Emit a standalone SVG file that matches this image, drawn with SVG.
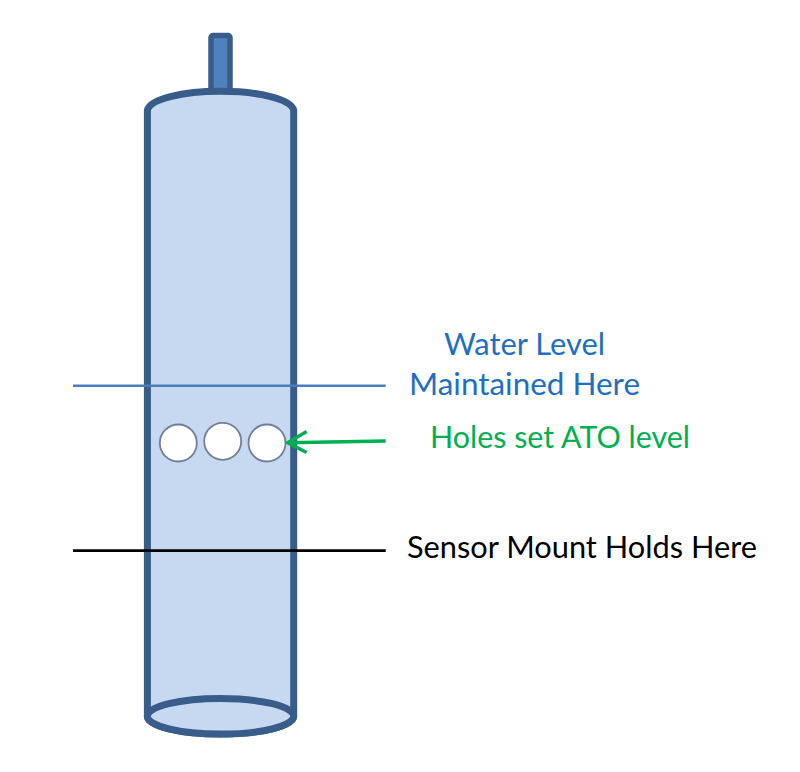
<svg xmlns="http://www.w3.org/2000/svg" width="800" height="772" viewBox="0 0 800 772">
<style>
.body{fill:#c6d9f1;stroke:#385d8a;stroke-width:7;stroke-linejoin:round}
.hole{fill:#fff;stroke:#6f7f98;stroke-width:1.800}
.lbl{font-family:Lato,"Open Sans","Liberation Sans",sans-serif;font-size:30px}
.line{fill:none;stroke-linecap:butt}
</style>
<rect width="800" height="772" fill="#fff"/>
<g id="stem"><rect x="211" y="35.500" width="19" height="58" rx="2" fill="#4f81bd" stroke="#385d8a" stroke-width="5.500" stroke-linejoin="round"/></g>
<g id="cylinder">
<path class="body" d="M147.400 110C150 99 182 91.300 220.500 91.300C259 91.300 291 99 293.700 110V716C293.700 726 261 734 220.500 734C180 734 147.400 726 147.400 716Z"/>
<ellipse class="body" cx="220.500" cy="716.300" rx="73.200" ry="17.800"/>
</g>
<g id="holes">
<circle class="hole" cx="178.300" cy="443" r="18.500"/>
<circle class="hole" cx="222.700" cy="441.300" r="18.500"/>
<circle class="hole" cx="267" cy="443" r="18.500"/>
</g>
<g id="connectors">
<path class="line" d="M73 385.700H385.700" stroke="#4a7ebb" stroke-width="2.500"/>
<path class="line" d="M73 550.700H385.700" stroke="#000" stroke-width="2.800"/>
<path class="line" d="M385.700 441L287.500 442.700M306.700 431.500L287.500 442.700L306.700 452.500" stroke="#00b050" stroke-width="3.500" stroke-linejoin="round"/>
</g>
<g id="label-water" class="lbl" fill="#1f6fc0">
<text x="444" y="355" textLength="161" lengthAdjust="spacingAndGlyphs">Water Level</text>
<text x="409" y="395" textLength="231" lengthAdjust="spacingAndGlyphs">Maintained Here</text>
</g>
<g id="label-holes"><text class="lbl" x="430" y="448" fill="#00b050" textLength="260" lengthAdjust="spacingAndGlyphs">Holes set ATO level</text></g>
<g id="label-sensor"><text class="lbl" x="407" y="558" fill="#000" textLength="350" lengthAdjust="spacingAndGlyphs">Sensor Mount Holds Here</text></g>
</svg>
